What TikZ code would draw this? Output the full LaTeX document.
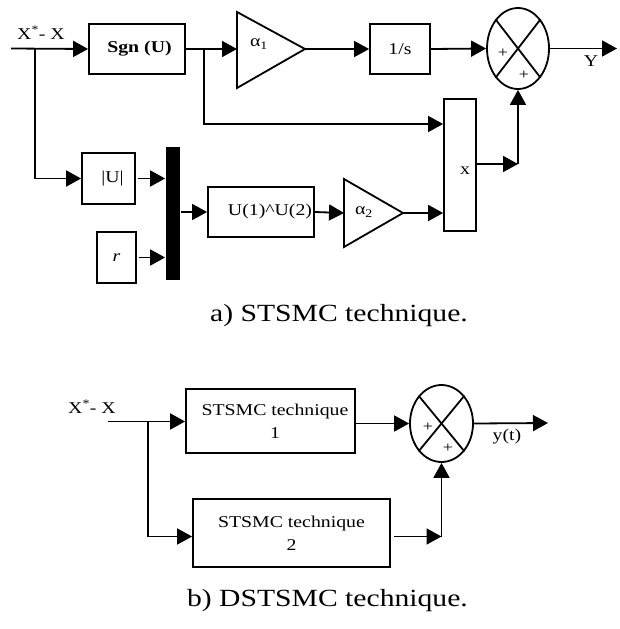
\documentclass[tikz,border=0pt]{standalone}
\usepackage{fontspec}
\setmainfont{Liberation Serif}[FakeStretch=1.2]
\usetikzlibrary{arrows.meta,shapes.geometric,calc}
\newcommand\lblfont{\fontsize{16.5}{23}\selectfont}
\newcommand\capfont{\fontsize{24.7}{28}\selectfont}
\newcommand\plusfont{\fontsize{15}{17}\selectfont}
\begin{document}
\begin{tikzpicture}[x=1pt,y=-1pt,line width=1.8pt,
  blk/.style={draw,rectangle,inner sep=0pt,font=\lblfont,align=center},
  sumj/.style={draw,ellipse,inner sep=0pt,minimum width=62pt,minimum height=81pt},
  arr/.style={-{Triangle[length=15pt,width=16pt]}},
  txt/.style={inner sep=0pt,font=\lblfont},
  pl/.style={inner sep=0pt,font=\plusfont},
  gain/.style={draw,line join=miter}]
\useasboundingbox (0,0) rectangle (619,629);

% ---------------- a) ----------------
\coordinate (in1) at (11,48.5);
\coordinate (b1) at (35,48.5);
\node[blk,minimum width=96pt,minimum height=50pt,font=\lblfont\bfseries] (sgn) at (137,49) {\hspace*{5pt}Sgn (U)};
\coordinate (b2) at (204,49);
% gain alpha1
\draw[gain] (237,12) -- (305,49) -- (237,88) -- cycle;
\coordinate (a1in) at (237,49);
\coordinate (a1out) at (305,49);
\node[txt] (a1l) at (259,44) {α\textsubscript{1}};
\node[blk,minimum width=60pt,minimum height=50pt] (ints) at (400,49) {1/s};
\node[sumj] (s1) at (518,48.5) {};
\draw (s1.north west) -- (s1.south east);
\draw (s1.north east) -- (s1.south west);
\node[pl] (p1) at (503,53) {+};
\node[pl] (p2) at (524,75) {+};
\coordinate (yout) at (617,48.5);
\node[txt] (ylab) at (591,61) {Y};
\node[txt] (xlab) at (41,33) {X\textsuperscript{*}- X};

\node[blk,minimum width=32pt,minimum height=132pt] (xb) at (460,165) {};
\node[txt] (xl) at (465,171) {x};
\coordinate (j1) at (518,164);

\node[blk,minimum width=53pt,minimum height=51pt] (absu) at (108.5,178.5) {\hspace*{8pt}|U|};
\node[blk,minimum width=39pt,minimum height=51pt] (rb) at (116.5,257.5) {\textit{r}};
\node[fill,inner sep=0pt,minimum width=14pt,minimum height=133pt] (mux) at (173,213.5) {};
\node[blk,minimum width=106pt,minimum height=50pt] (pw) at (261,212) {\hspace*{18pt}U(1)\textasciicircum U(2)};
% gain alpha2
\draw[gain] (344,179) -- (403,213) -- (344,247) -- cycle;
\coordinate (a2in) at (344,213);
\coordinate (a2out) at (403,213);
\node[txt] (a2l) at (364,212) {α\textsubscript{2}};

\draw[arr] (in1) -- (sgn.west);
\draw[arr] (b1) |- (absu.west);
\draw[arr] (sgn.east) -- (a1in);
\draw[arr] (b2) |- (xb.west |- 0,124);
\draw[arr] (a1out) -- (ints.west);
\draw[arr] (ints.east) -- (s1.west);
\draw[arr] (s1.east) -- (yout);
\draw[arr] (xb.east |- j1) -- (j1);
\draw[arr] (j1) -- (s1.south);
\draw[arr] ([xshift=2pt]absu.east) -- (mux.west |- absu.east);
\draw[arr] ([xshift=2pt]rb.east) -- (mux.west |- rb.east);
\draw[arr] (mux.east |- pw.west) -- (pw.west);
\draw[arr] (pw.east) -- (a2in);
\draw[arr] (a2out) -- (xb.west |- a2out);

\node[inner sep=0pt,font=\capfont] (capa) at (339,316) {a) STSMC technique.};

% ---------------- b) ----------------
\coordinate (in2) at (108,421.5);
\coordinate (b3) at (148,421.5);
\node[txt] (xlab2) at (92,407) {X\textsuperscript{*}- X};
\node[blk,minimum width=169pt,minimum height=64pt] (st1) at (270.5,421) {\hspace*{9pt}STSMC technique\\\hspace*{9pt}1};
\node[blk,minimum width=197pt,minimum height=68pt] (st2) at (291.5,533) {STSMC technique\\2};
\node[sumj,minimum width=63pt,minimum height=77pt] (s2) at (441.5,423.5) {};
\draw (s2.north west) -- (s2.south east);
\draw (s2.north east) -- (s2.south west);
\node[pl] (p3) at (428,427) {+};
\node[pl] (p4) at (448,448) {+};
\coordinate (yout2) at (548,423);
\node[txt] (ytl) at (507,437) {y(t)};
\coordinate (j2) at (441.5,536.5);

\draw[arr] (in2) -- (st1.west |- in2);
\draw[arr] (b3) |- (st2.west |- j2);
\draw[arr] (st1.east |- s2.west) -- (s2.west);
\draw[arr] (s2.east) -- (yout2);
\draw[arr] ([xshift=3pt]st2.east |- j2) -- (j2);
\draw[arr] (j2) -- (s2.south);

\node[inner sep=0pt,font=\capfont] (capb) at (327.5,601) {b) DSTSMC technique.};
\end{tikzpicture}
\end{document}
